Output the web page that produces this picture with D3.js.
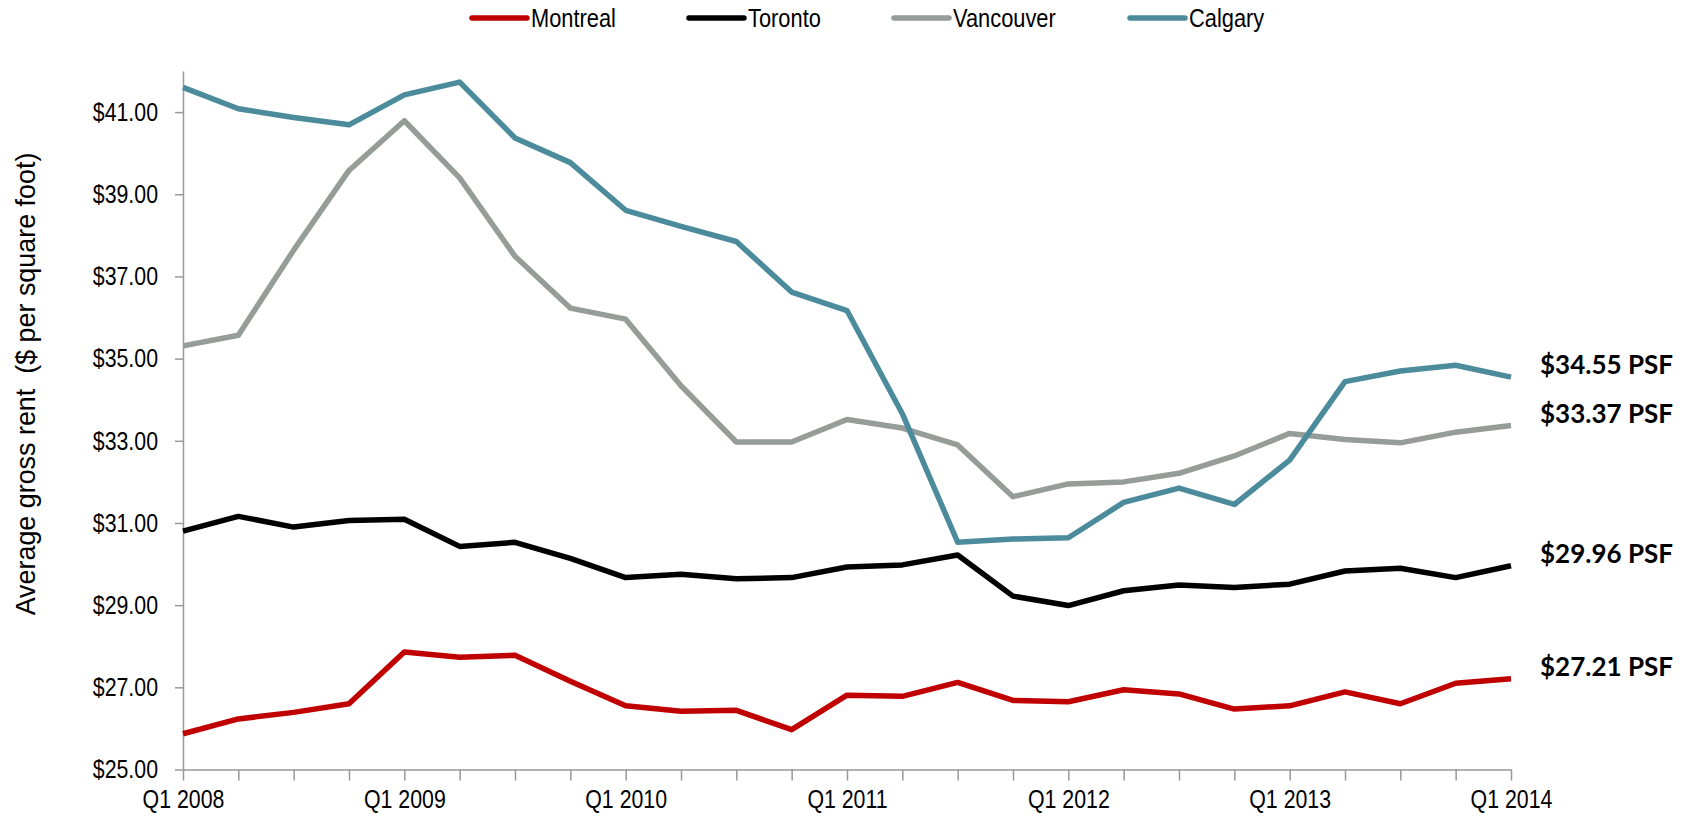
<!DOCTYPE html>
<html>
<head>
<meta charset="utf-8">
<script src="https://cdn.jsdelivr.net/npm/d3@7"></script>
<style>
  body { margin: 0; background: #fff; }
  svg text { font-family: "Liberation Sans", Arial, sans-serif; }
  .psf { font-family: Lato, "Open Sans", sans-serif !important; font-weight: bold; }
</style>
</head>
<body>
<svg id="chart" width="1690" height="816"></svg>
<script>
// quarters Q1 2008 .. Q1 2014
const quarters = [];
for (let yr = 2008; yr <= 2014; yr++) {
  for (let q = 1; q <= 4; q++) {
    if (yr === 2014 && q > 1) break;
    quarters.push(`Q${q} ${yr}`);
  }
}

const montreal = [25.87, 26.23, 26.39, 26.60, 27.86, 27.73, 27.78, 27.15, 26.55, 26.42, 26.44, 25.97,
  26.81, 26.78, 27.12, 26.68, 26.65, 26.94, 26.84, 26.47, 26.55, 26.89, 26.60, 27.10, 27.21];
const toronto = [30.80, 31.16, 30.90, 31.06, 31.09, 30.43, 30.53, 30.14, 29.67, 29.75, 29.64, 29.67,
  29.93, 29.98, 30.22, 29.22, 28.99, 29.35, 29.49, 29.43, 29.51, 29.83, 29.90, 29.67, 29.96];
const vancouver = [35.31, 35.57, 37.64, 39.58, 40.79, 39.40, 37.49, 36.23, 35.96, 34.34, 32.97, 32.97,
  33.52, 33.31, 32.90, 31.64, 31.95, 32.00, 32.21, 32.63, 33.18, 33.03, 32.95, 33.21, 33.37];
const calgary = [41.60, 41.08, 40.87, 40.69, 41.42, 41.73, 40.37, 39.77, 38.61, 38.22, 37.85, 36.62,
  36.17, 33.66, 30.53, 30.61, 30.64, 31.50, 31.85, 31.45, 32.53, 34.44, 34.70, 34.84, 34.55];

const cities = ['Montreal', 'Toronto', 'Vancouver', 'Calgary'];
const seriesValues = [montreal, toronto, vancouver, calgary];
const colorCodes = ['#c00000', '#000000', '#969c98', '#4b8b9b'];
const yTicks = [25, 27, 29, 31, 33, 35, 37, 39, 41];
const labelTicks = ['Q1 2008', 'Q1 2009', 'Q1 2010', 'Q1 2011', 'Q1 2012', 'Q1 2013', 'Q1 2014'];

const svg = d3.select('#chart');
const margin = { left: 183, right: 179, top: 71, bottom: 46.5 },
  width = 1690, height = 816;

// no narrow font installed, so squeeze the regular one
function narrow(sel, k) {
  sel.each(function () {
    const w = this.getComputedTextLength();
    d3.select(this).attr('textLength', w * k).attr('lengthAdjust', 'spacingAndGlyphs');
  });
}

const xScale = d3.scalePoint()
  .domain(quarters)
  .range([margin.left, width - margin.right]);

const yScale = d3.scaleLinear()
  .domain([25, 42])
  .range([height - margin.bottom, margin.top]);

const colorScale = d3.scaleOrdinal().domain(cities).range(colorCodes);

// y axis
const yAxis = svg.append('g')
  .attr('transform', `translate(${margin.left},0)`)
  .call(d3.axisLeft(yScale).tickValues(yTicks).tickSize(8).tickPadding(17)
    .tickFormat(d => '$' + d3.format('.2f')(d)).tickSizeOuter(0));
yAxis.select('.domain').attr('stroke', '#999').attr('stroke-width', 1.5);
yAxis.selectAll('.tick line').attr('stroke', '#999').attr('stroke-width', 1.5);
yAxis.selectAll('text').attr('font-size', 26).attr('fill', '#000').call(narrow, 0.82);

// x axis
const xAxis = svg.append('g')
  .attr('transform', `translate(0,${yScale(25)})`)
  .call(d3.axisBottom(xScale).tickSize(11).tickPadding(9).tickSizeOuter(0)
    .tickFormat(d => labelTicks.includes(d) ? d : ''));
xAxis.select('.domain').attr('stroke', '#999').attr('stroke-width', 1.5);
xAxis.selectAll('.tick line').attr('stroke', '#999').attr('stroke-width', 1.5);
xAxis.selectAll('text').filter(d => labelTicks.includes(d))
  .attr('font-size', 26).attr('fill', '#000').call(narrow, 0.82);

// y axis title
svg.append('text')
  .attr('transform', `translate(35,384) rotate(-90)`)
  .attr('text-anchor', 'middle')
  .attr('font-size', 28)
  .style('white-space', 'pre')
  .text('Average gross rent  ($ per square foot)')
  .call(narrow, 0.96);

const line = d3.line()
  .x((d, i) => xScale(quarters[i]))
  .y(d => yScale(d));

svg.append('g')
  .selectAll('path')
  .data(seriesValues)
  .enter()
  .append('path')
    .attr('d', d => line(d))
    .attr('fill', 'none')
    .attr('stroke', (d, i) => colorScale(cities[i]))
    .attr('stroke-width', 5.5)
    .attr('stroke-linejoin', 'round');

// end labels
svg.append('g')
  .selectAll('text')
  .data(seriesValues)
  .enter()
  .append('text')
    .attr('class', 'psf')
    .attr('x', xScale(quarters[quarters.length - 1]) + 29)
    .attr('y', d => yScale(d[d.length - 1]) - 3)
    .attr('font-size', 26)
    .text(d => '$' + d3.format('.2f')(d[d.length - 1]) + ' PSF');

// legend
const legendX = [472, 689, 894, 1130];
const legend = svg.append('g')
  .selectAll('g')
  .data(cities)
  .enter()
  .append('g')
    .attr('transform', (d, i) => `translate(${legendX[i]},18)`);
legend.append('line')
  .attr('x1', 0).attr('x2', 55)
  .attr('stroke', d => colorScale(d))
  .attr('stroke-width', 5.5)
  .attr('stroke-linecap', 'round');
legend.append('text')
  .attr('x', 59)
  .attr('y', 9)
  .attr('font-size', 26)
  .text(d => d)
  .call(narrow, 0.84);
</script>
</body>
</html>
